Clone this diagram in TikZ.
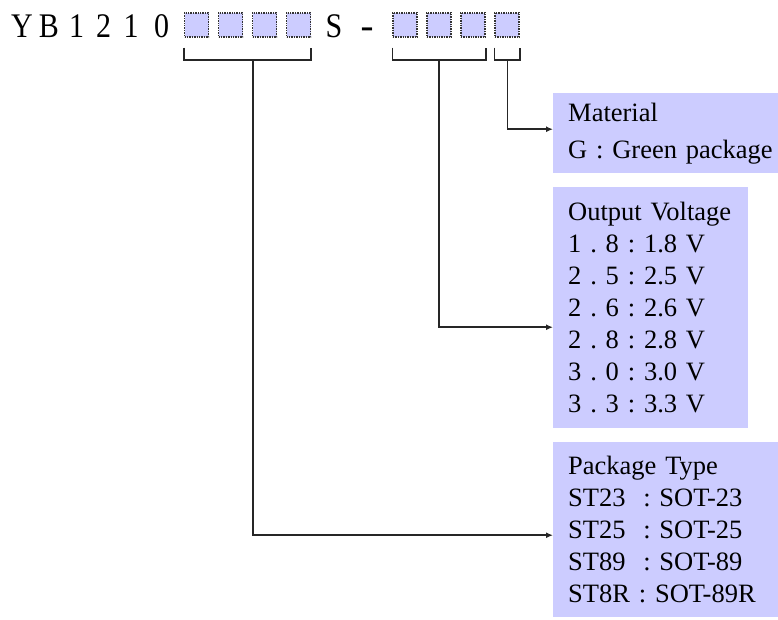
\documentclass[tikz,border=0pt]{standalone}
\usepackage{graphicx}
\usepackage{fontspec}
\setmainfont{Liberation Serif}
\usetikzlibrary{arrows.meta}
\definecolor{lav}{HTML}{CCCCFF}
\frenchspacing
\hyphenpenalty=10000

\begin{document}
\begin{tikzpicture}[x=1pt,y=1pt,node distance={34pt},
  code/.style = {anchor=base, inner sep=0pt, font=\fontsize{30}{30}\selectfont},
  slot/.style = {draw=black!80, densely dotted, line width=1.4pt, fill=lav, minimum size=24pt, inner sep=0pt},
  brace/.style = {line width=1.6pt, black!85},
  link/.style = {line width=1.6pt, black!85, -{Latex[length=7pt,width=6pt]}},
  info/.style = {fill=lav, anchor=north west, align=left, inner xsep=15pt, inner ysep=0pt, font=\fontsize{26.5}{32}\selectfont}]
\useasboundingbox (0,0) rectangle (778,-619);
% part number
\foreach \c/\x [count=\i] in {Y/22,B/49,1/76.5,2/103.5,1/131,0/161.5}
  \node[code] (c\i) at (\x,-37) {\scalebox{1}[1.15]{\c}};
\node[slot] (s1) at (196.5,-25) {};
\node[slot] (s2) [right of=s1] {};
\node[slot] (s3) [right of=s2] {};
\node[slot] (s4) [right of=s3] {};
\node[code] (S) at (334,-37) {\scalebox{1}[1.15]{S}};
\node[code] (dash) at (367,-37) {\scalebox{1.3}[1.15]{\textbf{-}}};
\node[slot] (s5) at (405,-25) {};
\node[slot] (s6) [right of=s5] {};
\node[slot] (s7) [right of=s6] {};
\node[slot] (s8) [right of=s7] {};
% boxes
\node[info, text width=195pt, minimum height=80pt] (m) at (553,-93) {Material\\[5pt]G~:~Green~package};
\node[info, text width=165pt, minimum height=241pt] (v) at (553,-187) {Output~Voltage\\1 . 8 : 1.8 V\\2 . 5 : 2.5 V\\2 . 6 : 2.6 V\\2 . 8 : 2.8 V\\3 . 0 : 3.0 V\\3 . 3 : 3.3 V};
\node[info, text width=195pt, minimum height=175pt] (p) at (553,-442) {Package Type\\ST23~ : SOT-23\\ST25~ : SOT-25\\ST89~ : SOT-89\\ST8R : SOT-89R};
% brackets
\draw[brace] ([yshift=-10pt]s1.south west) -- ++(0,-12) -| ([yshift=-10pt]s4.south east);
\draw[brace] ([yshift=-10pt]s5.south west) -- ++(0,-12) -| ([yshift=-10pt]s7.south east);
\draw[brace] ([yshift=-10pt]s8.south west) -- ++(0,-12) -| ([yshift=-10pt]s8.south east);
\coordinate (b1) at (253,-59);
\coordinate (b2) at (439,-59);
\coordinate (b3) at (507.5,-59);
\draw[link] (b3) |- ([yshift=4pt]m.west);
\draw[link] (b2) |- ([yshift=-19.5pt]v.west);
\draw[link] (b1) |- ([yshift=-5.5pt]p.west);
\end{tikzpicture}
\end{document}
